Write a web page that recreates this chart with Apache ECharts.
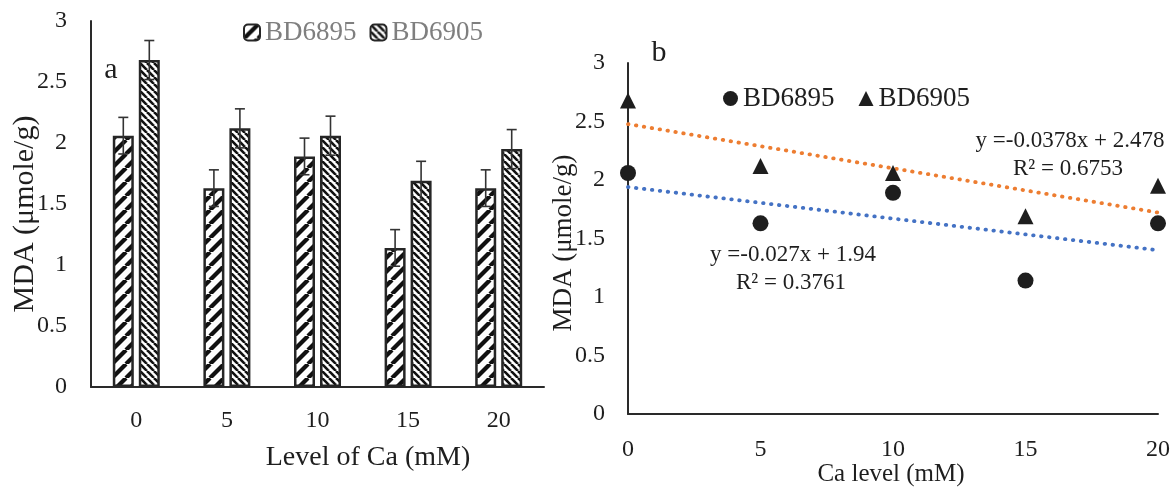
<!DOCTYPE html>
<html>
<head>
<meta charset="utf-8">
<script src="https://cdn.jsdelivr.net/npm/echarts@6/dist/echarts.min.js"></script>
<style>html,body{margin:0;padding:0;background:#fff}#c{width:1175px;height:491px}</style>
</head>
<body>
<div id="c"></div>
<script>
// ---- data ----
const categories = ['0', '5', '10', '15', '20'];
const bd6895 = [2.06, 1.63, 1.89, 1.14, 1.63];
const bd6905 = [2.68, 2.12, 2.06, 1.69, 1.95];
const err6895 = [0.15, 0.15, 0.15, 0.15, 0.15];
const err6905 = [0.16, 0.16, 0.16, 0.16, 0.16];
const caLevels = [0, 5, 10, 15, 20];
const trendX = [0, 20];
const trend6895 = [1.94, 1.40];
const trend6905 = [2.478, 1.722];
const eq6895 = ['y =-0.027x + 1.94', 'R\u00b2 = 0.3761'];
const eq6905 = ['y =-0.0378x + 2.478', 'R\u00b2 = 0.6753'];
const seriesNames = ['BD6895', 'BD6905'];

// ---- styles ----
const FONT = '"Liberation Serif", serif';
const INK = '#1e1e1e';
const BAR_W = 21, BAR_GAP = 5;

function makePattern(period, lw, dir) {
  const c = document.createElement('canvas');
  c.width = period; c.height = period;
  const g = c.getContext('2d');
  g.fillStyle = '#fff'; g.fillRect(0, 0, period, period);
  g.strokeStyle = '#111'; g.lineWidth = lw;
  for (let k = -1; k <= 1; k++) {
    g.beginPath();
    if (dir === '/') { g.moveTo(k * period, period); g.lineTo(k * period + period, 0); }
    else { g.moveTo(k * period, 0); g.lineTo(k * period + period, period); }
    g.stroke();
  }
  return { image: c, repeat: 'repeat' };
}
const pat1 = makePattern(14, 4.2, '/');
const pat2 = makePattern(7, 2.6, '\\');

function errRender(offset) {
  return function (params, api) {
    const i = api.value(0), v = api.value(1), e = api.value(2);
    const t = api.coord([i, v + e]), b = api.coord([i, v - e]);
    const x = t[0] + offset;
    const st = { stroke: '#333', lineWidth: 1.6 };
    return {
      type: 'group', children: [
        { type: 'line', shape: { x1: x, y1: t[1], x2: x, y2: b[1] }, style: st },
        { type: 'line', shape: { x1: x - 5, y1: t[1], x2: x + 5, y2: t[1] }, style: st },
        { type: 'line', shape: { x1: x - 5, y1: b[1], x2: x + 5, y2: b[1] }, style: st }
      ]
    };
  };
}

function txt(text, x, y, size, opts) {
  opts = opts || {};
  return {
    type: 'text', x: x, y: y, rotation: opts.rot || 0, z: 10,
    style: {
      text: text, font: size + 'px ' + FONT, fill: opts.color || INK,
      textAlign: 'center', textVerticalAlign: 'middle', align: 'center', verticalAlign: 'middle'
    }
  };
}

const chart = echarts.init(document.getElementById('c'), null, { renderer: 'canvas' });
const axisLabel = { color: INK, fontFamily: FONT, fontSize: 24 };
const axisLine = { show: true, lineStyle: { color: '#2a2a2a', width: 2 } };

chart.setOption({
  animation: false,
  backgroundColor: '#fff',
  grid: [
    { left: 91, top: 21, width: 453, bottom: 104 },
    { left: 628, top: 63, right: 17, bottom: 77 }
  ],
  xAxis: [
    { gridIndex: 0, type: 'category', data: categories, boundaryGap: true,
      axisTick: { show: false }, axisLine: axisLine, axisLabel: Object.assign({ margin: 22 }, axisLabel) },
    { gridIndex: 1, type: 'value', min: 0, max: 20, interval: 5, splitLine: { show: false },
      axisTick: { show: false }, axisLine: axisLine, axisLabel: Object.assign({ margin: 24 }, axisLabel) }
  ],
  yAxis: [
    { gridIndex: 0, type: 'value', min: 0, max: 3, interval: 0.5, splitLine: { show: false },
      axisTick: { show: false }, axisLine: axisLine, axisLabel: Object.assign({ margin: 24 }, axisLabel) },
    { gridIndex: 1, type: 'value', min: 0, max: 3, interval: 0.5, splitLine: { show: false },
      axisTick: { show: false }, axisLine: axisLine, axisLabel: Object.assign({ margin: 23 }, axisLabel) }
  ],
  legend: [
    { left: 243, top: 19, padding: 0, itemWidth: 16, itemHeight: 16, itemGap: 13,
      data: seriesNames, textStyle: { color: '#7f7f7f', fontFamily: FONT, fontSize: 27 } },
    { left: 723, top: 85, padding: 0, itemWidth: 15, itemHeight: 15, itemGap: 24,
      data: seriesNames.map(n => 'b:' + n), formatter: n => n.replace('b:', ''),
      textStyle: { color: INK, fontFamily: FONT, fontSize: 27 } }
  ],
  series: [
    { name: seriesNames[0], type: 'bar', xAxisIndex: 0, yAxisIndex: 0, data: bd6895,
      barWidth: BAR_W, barGap: (BAR_GAP / BAR_W * 100) + '%',
      itemStyle: { color: pat1, borderColor: '#262626', borderWidth: 2.5 } },
    { name: seriesNames[1], type: 'bar', xAxisIndex: 0, yAxisIndex: 0, data: bd6905,
      barWidth: BAR_W,
      itemStyle: { color: pat2, borderColor: '#262626', borderWidth: 2.5 } },
    { type: 'custom', xAxisIndex: 0, yAxisIndex: 0, z: 5,
      renderItem: errRender(-(BAR_W + BAR_GAP) / 2),
      data: bd6895.map((v, i) => [i, v, err6895[i]]) },
    { type: 'custom', xAxisIndex: 0, yAxisIndex: 0, z: 5,
      renderItem: errRender((BAR_W + BAR_GAP) / 2),
      data: bd6905.map((v, i) => [i, v, err6905[i]]) },
    { name: 'trend6895', type: 'line', xAxisIndex: 1, yAxisIndex: 1, symbol: 'none',
      data: trendX.map((x, i) => [x, trend6895[i]]),
      lineStyle: { color: '#4472C4', width: 3.8, type: [0.5, 7.5], cap: 'round' } },
    { name: 'trend6905', type: 'line', xAxisIndex: 1, yAxisIndex: 1, symbol: 'none',
      data: trendX.map((x, i) => [x, trend6905[i]]),
      lineStyle: { color: '#ED7D31', width: 3.8, type: [0.5, 7.5], cap: 'round' } },
    { name: 'b:' + seriesNames[0], type: 'scatter', xAxisIndex: 1, yAxisIndex: 1, symbol: 'circle', symbolSize: 16,
      data: caLevels.map((x, i) => [x, bd6895[i]]), itemStyle: { color: INK, opacity: 1 }, z: 4 },
    { name: 'b:' + seriesNames[1], type: 'scatter', xAxisIndex: 1, yAxisIndex: 1, symbol: 'triangle', symbolSize: 16,
      data: caLevels.map((x, i) => [x, bd6905[i]]), itemStyle: { color: INK, opacity: 1 }, z: 4 }
  ],
  graphic: [
    txt('a', 111, 70, 30),
    txt('b', 659, 53, 30),
    txt('Level of Ca (mM)', 368, 458, 28),
    txt('MDA (\u03bcmole/g)', 25, 214, 30, { rot: Math.PI / 2 }),
    txt('Ca level (mM)', 891, 474, 25),
    txt('MDA (\u03bcmole/g)', 564, 243, 27, { rot: Math.PI / 2 }),
    txt(eq6905[0], 1070, 141, 23),
    txt(eq6905[1], 1068, 169, 23),
    txt(eq6895[0], 793, 255, 23),
    txt(eq6895[1], 791, 283, 23)
  ]
});
</script>
</body>
</html>
